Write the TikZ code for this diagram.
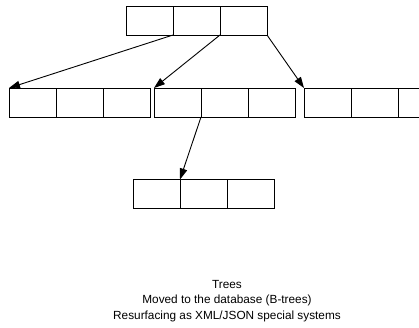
\documentclass[tikz,border=0pt]{standalone}
\usepackage{fontspec}
\setmainfont{Liberation Sans}
\usetikzlibrary{arrows.meta}
\begin{document}
\begin{tikzpicture}[x=1pt,y=-1pt,
  cell/.style={draw,line width=0.9pt,minimum width=47pt,minimum height=29pt,inner sep=0pt,outer sep=0pt},
  link/.style={line width=0.9pt,-{Triangle[length=11pt,width=7.5pt]}},
  caption/.style={align=center,font=\fontsize{11.8}{15.5}\selectfont,inner sep=0pt}]
\useasboundingbox (0,0) rectangle (419,327);
\clip (0,0) rectangle (419,327);
% top
\node[cell] (t1) at (149.5,20.5) {};
\node[cell] (t2) at (196.5,20.5) {};
\node[cell] (t3) at (243.5,20.5) {};
% left
\node[cell] (l1) at (32.5,102.5) {};
\node[cell] (l2) at (79.5,102.5) {};
\node[cell] (l3) at (126.5,102.5) {};
% middle
\node[cell] (m1) at (177.5,102.5) {};
\node[cell] (m2) at (224.5,102.5) {};
\node[cell] (m3) at (271.5,102.5) {};
% right
\node[cell] (r1) at (327.5,102.5) {};
\node[cell] (r2) at (374.5,102.5) {};
\node[cell] (r3) at (421.5,102.5) {};
% bottom
\node[cell] (b1) at (156.5,194) {};
\node[cell] (b2) at (203.5,194) {};
\node[cell] (b3) at (250.5,194) {};
% arrows
\draw[link] (t1.south east) -- (l1.north west);
\draw[link] (t2.south east) -- (m1.north west);
\draw[link] (t3.south east) -- (r1.north west);
\draw[link] (m1.south east) -- (b1.north east);
% caption
\node[caption] (cap) at (227,301) {Trees\\Moved to the database (B-trees)\\Resurfacing as XML/JSON special systems};
\end{tikzpicture}
\end{document}
